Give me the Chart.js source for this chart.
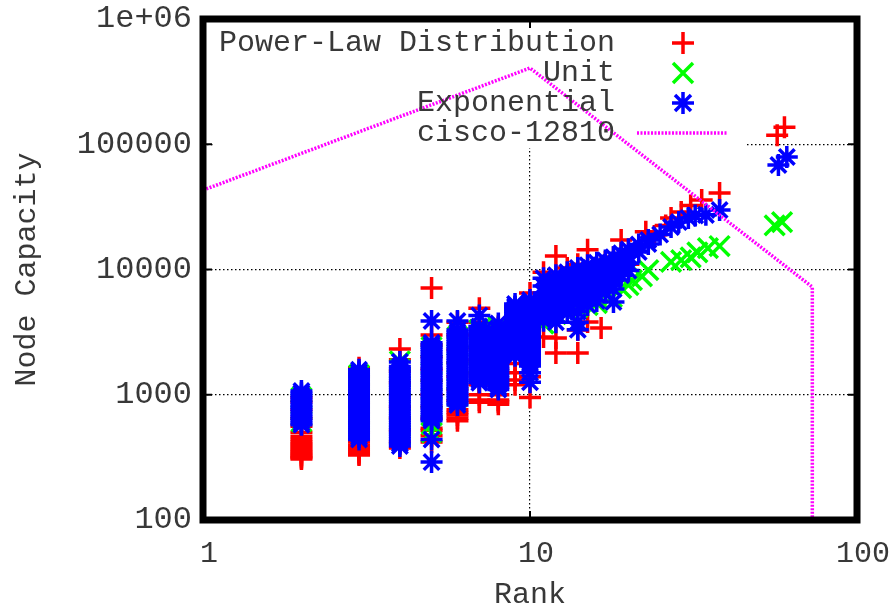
<!DOCTYPE html>
<html>
<head>
<meta charset="utf-8">
<script src="https://cdn.jsdelivr.net/npm/chart.js@4/dist/chart.umd.min.js"></script>
<style>
  html, body { margin: 0; padding: 0; background: #fff; }
  #wrap { width: 896px; height: 610px; }
</style>
</head>
<body>
<div id="wrap"><canvas id="chart" width="896" height="610"></canvas></div>
<script>
// [rank, node capacity]
const powerLaw = [
  [2, 307], [2, 314], [2, 322], [2, 330], [2, 340], [2, 350], [2, 362], [2, 375], [2, 390], [2, 405], [2, 420], [2, 440], [2, 465], [2, 500], [2, 560], [2, 650], [2, 760], [2, 880], [2, 950],
  [3, 330], [3, 338], [3, 350], [3, 365], [3, 380], [3, 395], [3, 420], [3, 500], [3, 600], [3, 720], [3, 860], [3, 1020], [3, 1200], [3, 1400], [3, 1640],
  [4, 375], [4, 420], [4, 520], [4, 650], [4, 800], [4, 1000], [4, 1250], [4, 1550], [4, 1900], [4, 2320],
  [5, 420], [5, 470], [5, 520], [5, 540], [5, 650], [5, 800], [5, 1000], [5, 1300], [5, 1600], [5, 2000], [5, 2500], [5, 3000], [5, 7110],
  [6, 620], [6, 650], [6, 690], [6, 720], [6, 760], [6, 900], [6, 1100], [6, 1400], [6, 1800], [6, 2300], [6, 3000], [6, 3800],
  [7, 870], [7, 908], [7, 1000], [7, 1200], [7, 1500], [7, 1900], [7, 2400], [7, 3000], [7, 3800], [7, 4900],
  [8, 840], [8, 880], [8, 908], [8, 1000], [8, 1250], [8, 1600], [8, 2100], [8, 2700], [8, 3500],
  [9, 1200], [9, 1310], [9, 1500], [9, 1780], [9, 2290], [9, 2890], [9, 3500], [9, 5000],
  [10, 950], [10, 1390], [10, 1900], [10, 2500], [10, 3300], [10, 4500], [10, 6490],
  [11, 2890], [11, 4500], [11, 6500], [11, 9500],
  [12, 2150], [12, 2840], [12, 6000], [12, 8500], [12, 12800],
  [13, 5500], [13, 7500], [13, 10300],
  [14, 2150], [14, 3290], [14, 5800], [14, 8000], [14, 11000],
  [15, 3810], [15, 6800], [15, 9500], [15, 14400],
  [16.5, 3410], [16.5, 7500], [16.5, 10500],
  [17, 8200], [17, 11500],
  [18, 9000], [18, 12500],
  [19, 9500], [19, 13000], [19, 17200],
  [20, 11000], [20, 14000],
  [22.6, 20000], [24, 18500], [26, 22500], [27, 25800], [29, 28800], [31, 32500], [33.5, 35900], [38, 40800],
  [57, 118000], [60, 137000]
];

const unit = [
  [2, 610], [2, 680], [2, 760], [2, 850], [2, 950],
  [3, 520], [3, 600], [3, 690], [3, 800], [3, 930], [3, 1080], [3, 1250], [3, 1440],
  [4, 480], [4, 560], [4, 650], [4, 760], [4, 880], [4, 1020], [4, 1180], [4, 1380], [4, 1600], [4, 1850],
  [5, 500], [5, 580], [5, 680], [5, 800], [5, 940], [5, 1100], [5, 1280], [5, 1500], [5, 1750], [5, 2050], [5, 2400],
  [6, 970], [6, 1130], [6, 1320], [6, 1550], [6, 1800], [6, 2100], [6, 2450], [6, 2900],
  [7, 1500], [7, 1750], [7, 2050], [7, 2400], [7, 2800], [7, 3300],
  [8, 1600], [8, 1850], [8, 2200], [8, 2600], [8, 3000], [8, 3500],
  [9, 2250], [9, 2600], [9, 3000], [9, 3500], [9, 4000],
  [10, 2250], [10, 2600], [10, 3000], [10, 3500], [10, 4000], [10, 4500],
  [11, 3700], [11, 4200], [11, 4800],
  [12, 4400], [12, 5000],
  [13, 4700], [13, 5400],
  [14, 5000], [14, 5600],
  [15, 5200], [15, 5800],
  [16, 5400], [16, 5900],
  [17.8, 6030], [19, 7110], [20, 7520], [20.5, 8240], [22, 8800], [23, 9900],
  [27, 11500], [29, 11900], [31, 12500], [32.5, 13700], [35, 14800], [38, 15400],
  [56, 22500], [59, 23900]
];

const exponential = [
  [2, 575], [2, 595], [2, 620], [2, 645], [2, 672], [2, 700], [2, 732], [2, 765], [2, 797], [2, 830], [2, 867], [2, 905], [2, 945], [2, 985], [2, 1030], [2, 1070],
  [3, 440], [3, 460], [3, 480], [3, 502], [3, 525], [3, 547], [3, 570], [3, 595], [3, 620], [3, 647], [3, 675], [3, 705], [3, 735], [3, 767], [3, 800], [3, 835], [3, 870], [3, 907], [3, 945], [3, 987], [3, 1030], [3, 1075], [3, 1120], [3, 1170], [3, 1220], [3, 1275], [3, 1330], [3, 1390], [3, 1450], [3, 1515], [3, 1580],
  [4, 390], [4, 407], [4, 425], [4, 445], [4, 465], [4, 485], [4, 505], [4, 527], [4, 550], [4, 575], [4, 600], [4, 627], [4, 655], [4, 682], [4, 710], [4, 742], [4, 775], [4, 810], [4, 845], [4, 882], [4, 920], [4, 960], [4, 1000], [4, 1045], [4, 1090], [4, 1140], [4, 1190], [4, 1245], [4, 1300], [4, 1355], [4, 1410], [4, 1475], [4, 1540], [4, 1610], [4, 1680], [4, 1830],
  [5, 290], [5, 440], [5, 620], [5, 640], [5, 660], [5, 690], [5, 720], [5, 752], [5, 785], [5, 820], [5, 855], [5, 892], [5, 930], [5, 970], [5, 1010], [5, 1055], [5, 1100], [5, 1150], [5, 1200], [5, 1255], [5, 1310], [5, 1370], [5, 1430], [5, 1495], [5, 1560], [5, 1630], [5, 1700], [5, 1775], [5, 1850], [5, 1935], [5, 2020], [5, 2110], [5, 2200], [5, 2300], [5, 2400], [5, 2500], [5, 2600], [5, 3880],
  [6, 830], [6, 865], [6, 900], [6, 940], [6, 980], [6, 1025], [6, 1070], [6, 1120], [6, 1170], [6, 1220], [6, 1270], [6, 1330], [6, 1390], [6, 1450], [6, 1510], [6, 1580], [6, 1650], [6, 1725], [6, 1800], [6, 1880], [6, 1960], [6, 2050], [6, 2140], [6, 2235], [6, 2330], [6, 2435], [6, 2540], [6, 2655], [6, 2770], [6, 2895], [6, 3020], [6, 3150], [6, 3290], [6, 3880],
  [7, 1250], [7, 1305], [7, 1360], [7, 1420], [7, 1480], [7, 1545], [7, 1610], [7, 1685], [7, 1760], [7, 1840], [7, 1920], [7, 2005], [7, 2090], [7, 2185], [7, 2280], [7, 2380], [7, 2480], [7, 2590], [7, 2700], [7, 2825], [7, 2950], [7, 3075], [7, 3200], [7, 3350], [7, 3500], [7, 4300],
  [8, 1100], [8, 1150], [8, 1200], [8, 1255], [8, 1310], [8, 1370], [8, 1430], [8, 1495], [8, 1560], [8, 1630], [8, 1700], [8, 1775], [8, 1850], [8, 1935], [8, 2020], [8, 2110], [8, 2200], [8, 2300], [8, 2400], [8, 2510], [8, 2620], [8, 2735], [8, 2850], [8, 2975], [8, 3100], [8, 3250], [8, 3400], [8, 3700],
  [9, 2050], [9, 2140], [9, 2230], [9, 2330], [9, 2430], [9, 2540], [9, 2650], [9, 2770], [9, 2890], [9, 3020], [9, 3150], [9, 3290], [9, 3430], [9, 3585], [9, 3740], [9, 3910], [9, 4080], [9, 4265], [9, 4450], [9, 4650], [9, 4850], [9, 5070], [9, 5300],
  [10, 1260], [10, 1500], [10, 1700], [10, 1775], [10, 1850], [10, 1935], [10, 2020], [10, 2110], [10, 2200], [10, 2300], [10, 2400], [10, 2510], [10, 2620], [10, 2735], [10, 2850], [10, 2980], [10, 3110], [10, 3250], [10, 3390], [10, 3545], [10, 3700], [10, 3865], [10, 4030], [10, 4215], [10, 4400], [10, 4600], [10, 4800], [10, 5015], [10, 5230], [10, 5465], [10, 5700],
  [11, 3900], [11, 4400], [11, 5000], [11, 5700], [11, 6500], [11, 7400], [11, 8500],
  [11.5, 4300], [11.5, 5000], [11.5, 5800], [11.5, 6800], [11.5, 8000],
  [12, 3800], [12, 4400], [12, 5100], [12, 5900], [12, 6800], [12, 7800], [12, 9000],
  [12.5, 6100], [12.5, 7200], [12.5, 8500],
  [13, 4500], [13, 5200], [13, 6100], [13, 7100], [13, 8200], [13, 9500],
  [13.5, 5600], [13.5, 6600], [13.5, 7800], [13.5, 9200],
  [14, 3300], [14, 3800], [14, 4600], [14, 5500], [14, 6500], [14, 7600], [14, 8900], [14, 10300],
  [15, 5200], [15, 6000], [15, 7000], [15, 8100], [15, 9400], [15, 10800],
  [16, 5600], [16, 6300], [16, 7300], [16, 8500], [16, 9800], [16, 11300],
  [17, 6600], [17, 7700], [17, 8900], [17, 10300], [17, 11800],
  [18, 5500], [18, 7000], [18, 8200], [18, 9500], [18, 10900], [18, 12500],
  [19, 9000], [19, 10300], [19, 11800], [19, 13500],
  [20, 9800], [20, 11200], [20, 12800], [20, 14500],
  [21.5, 13800], [21.5, 15800],
  [23, 16000], [23, 17200],
  [25, 19000], [27, 21800], [28.5, 23900], [30.5, 25800], [32, 27000], [34.5, 27300], [38, 29900],
  [57.5, 68300], [61, 79100]
];

const cisco12810 = [[1, 43000], [10, 406000], [73, 7250], [73, 50]];

const seriesNames = ["Power-Law Distribution", "Unit", "Exponential", "cisco-12810"];
const xTicks = [1, 10, 100];
const xTickLabels = ["1", "10", "100"];
const yTicks = [100, 1000, 10000, 100000, 1000000];
const yTickLabels = ["100", "1000", "10000", "100000", "1e+06"];

const toXY = arr => arr.map(p => ({ x: p[0], y: p[1] }));

Chart.defaults.font.family = "'Liberation Mono', monospace";
Chart.defaults.font.size = 30;
Chart.defaults.color = "#383838";

// gnuplot style frame, key box and key entries
const gnuplotFrame = {
  id: "gnuplotFrame",
  beforeDatasetsDraw(chart) {
    const { ctx, chartArea: a } = chart;
    ctx.save();
    ctx.fillStyle = "#fff";
    ctx.fillRect(a.left + 12, a.top, 530, 129);
    ctx.restore();
  },
  afterDatasetsDraw(chart) {
    const { ctx, chartArea: a } = chart;
    const textX = a.left + 412;
    const sampleX = a.left + 480;
    ctx.save();
    ctx.font = "30px 'Liberation Mono', monospace";
    ctx.fillStyle = "#383838";
    ctx.textAlign = "right";
    ctx.textBaseline = "middle";
    chart.data.datasets.forEach((ds, i) => {
      const y = a.top + 24 + i * 30;
      ctx.fillText(seriesNames[i], textX, y);
      ctx.strokeStyle = ds.borderColor;
      ctx.lineWidth = ds.pointBorderWidth || ds.borderWidth;
      ctx.beginPath();
      if (ds.pointStyle === "cross") {
        ctx.moveTo(sampleX - 11, y); ctx.lineTo(sampleX + 11, y);
        ctx.moveTo(sampleX, y - 11); ctx.lineTo(sampleX, y + 11);
      } else if (ds.pointStyle === "crossRot") {
        ctx.moveTo(sampleX - 10, y - 10); ctx.lineTo(sampleX + 10, y + 10);
        ctx.moveTo(sampleX - 10, y + 10); ctx.lineTo(sampleX + 10, y - 10);
      } else if (ds.pointStyle === "star") {
        ctx.moveTo(sampleX - 11, y); ctx.lineTo(sampleX + 11, y);
        ctx.moveTo(sampleX, y - 11); ctx.lineTo(sampleX, y + 11);
        ctx.moveTo(sampleX - 8, y - 8); ctx.lineTo(sampleX + 8, y + 8);
        ctx.moveTo(sampleX - 8, y + 8); ctx.lineTo(sampleX + 8, y - 8);
      } else {
        ctx.setLineDash(ds.borderDash);
        ctx.moveTo(sampleX - 46, y); ctx.lineTo(sampleX + 45, y);
      }
      ctx.stroke();
      ctx.setLineDash([]);
    });
    ctx.restore();
  },
  afterDraw(chart) {
    const { ctx, chartArea: a, scales } = chart;
    ctx.save();
    ctx.strokeStyle = "#000";
    ctx.lineWidth = 7;
    ctx.strokeRect(a.left, a.top, a.right - a.left, a.bottom - a.top);
    ctx.lineWidth = 2;
    ctx.beginPath();
    yTicks.slice(1, -1).forEach(v => {
      const y = scales.y.getPixelForValue(v);
      ctx.moveTo(a.left, y); ctx.lineTo(a.left + 9, y);
      ctx.moveTo(a.right, y); ctx.lineTo(a.right - 9, y);
    });
    xTicks.slice(1, -1).forEach(v => {
      const x = scales.x.getPixelForValue(v);
      ctx.moveTo(x, a.bottom); ctx.lineTo(x, a.bottom - 9);
      ctx.moveTo(x, a.top); ctx.lineTo(x, a.top + 9);
    });
    ctx.stroke();
    ctx.restore();
  }
};

const gridColor = (inner) => (c) => (c.tick && inner.includes(c.tick.value) ? "#000" : "rgba(0,0,0,0)");

new Chart(document.getElementById("chart"), {
  type: "scatter",
  data: {
    datasets: [
      {
        label: seriesNames[0],
        data: toXY(powerLaw),
        pointStyle: "cross",
        pointRadius: 11,
        pointBorderWidth: 3.5,
        borderColor: "#ff0000",
        backgroundColor: "#ff0000",
        order: 4
      },
      {
        label: seriesNames[1],
        data: toXY(unit),
        pointStyle: "crossRot",
        pointRadius: 14,
        pointBorderWidth: 3.5,
        borderColor: "#00ff00",
        backgroundColor: "#00ff00",
        order: 3
      },
      {
        label: seriesNames[2],
        data: toXY(exponential),
        pointStyle: "star",
        pointRadius: 11,
        pointBorderWidth: 3.5,
        borderColor: "#0000ff",
        backgroundColor: "#0000ff",
        order: 2
      },
      {
        label: seriesNames[3],
        data: toXY(cisco12810),
        showLine: true,
        pointRadius: 0,
        borderWidth: 3.5,
        borderDash: [2, 1.5],
        borderColor: "#ff00ff",
        backgroundColor: "#ff00ff",
        tension: 0,
        order: 1
      }
    ]
  },
  options: {
    responsive: false,
    animation: false,
    events: [],
    layout: { padding: { top: 19, right: 39, bottom: 0, left: 0 } },
    plugins: {
      legend: { display: false },
      tooltip: { enabled: false }
    },
    scales: {
      x: {
        type: "logarithmic",
        min: 1,
        max: 100,
        afterBuildTicks: s => { s.ticks = xTicks.map(v => ({ value: v })); },
        afterFit: s => { s.height = 90; s.paddingLeft = 0; s.paddingRight = 0; },
        ticks: {
          padding: 16,
          labelOffset: 6,
          maxRotation: 0,
          autoSkip: false,
          callback: v => xTickLabels[xTicks.indexOf(v)]
        },
        grid: { color: gridColor([10]), lineWidth: 1.2, drawTicks: false },
        border: { display: false, dash: [1.5, 2.5] },
        title: { display: true, text: "Rank", padding: { top: 0, bottom: 0 }, font: { lineHeight: 1 } }
      },
      y: {
        type: "logarithmic",
        min: 100,
        max: 1000000,
        afterBuildTicks: s => { s.ticks = yTicks.map(v => ({ value: v })); },
        afterFit: s => { s.width = 203; s.paddingTop = 0; s.paddingBottom = 0; },
        ticks: {
          padding: 11,
          autoSkip: false,
          font: { size: 32 },
          callback: v => yTickLabels[yTicks.indexOf(v)]
        },
        grid: { color: gridColor([1000, 10000, 100000]), lineWidth: 1.2, drawTicks: false },
        border: { display: false, dash: [1.5, 2.5] },
        title: { display: true, text: "Node Capacity", padding: { top: 12, bottom: 0 }, font: { lineHeight: 1 } }
      }
    }
  },
  plugins: [gnuplotFrame]
});
</script>
</body>
</html>
